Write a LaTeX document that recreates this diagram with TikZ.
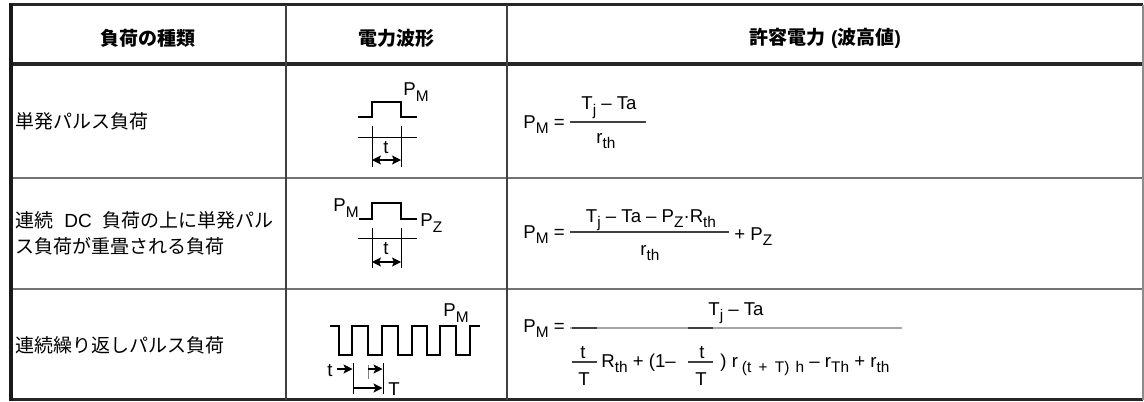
\documentclass[tikz,border=0pt]{standalone}
\usepackage{fontspec}
\setmainfont{Liberation Sans}
\newfontfamily\jp{Noto Sans CJK JP}
\newfontfamily\latn{Liberation Sans}
\usetikzlibrary{arrows.meta}
\newcommand\sbs[1]{\raisebox{-0.28em}{\fontsize{7.7}{9}\selectfont #1}}
\newcommand\fmsize{\fontsize{9.3}{11}\selectfont}
\tikzset{
  jtxt/.style={font=\jp\fontsize{9.5}{13}\selectfont, inner sep=0pt, align=left},
  hdr/.style={font=\jp\bfseries\fontsize{9.5}{13}\selectfont, inner sep=0pt},
  ftxt/.style={font=\fmsize, inner sep=0pt},
  wave/.style={line width=1pt, line join=miter},
  dimline/.style={line width=0.5pt},
  tip/.tip={Stealth[length=4.5pt,width=4.5pt,inset=1pt]},
  dimarrow/.style={line width=0.6pt, -tip},
  dimboth/.style={line width=0.6pt, tip-tip},
  fbar/.style={line width=0.9pt, black!75},
}
\begin{document}
\begin{tikzpicture}[x=0.5pt,y=-0.5pt]
\useasboundingbox (0,0) rectangle (1144,401);
% table grid
\draw[line width=1.5pt, black!85] (9,5) -- (1143,5);
\draw[line width=1.8pt, black!85] (9,64) -- (1143,64);
\draw[line width=1.1pt, black!55] (9,178) -- (1143,178);
\draw[line width=1.1pt, black!55] (9,289) -- (1143,289);
\draw[line width=1.2pt, black!85] (9,399.5) -- (1143,399.5);
\draw[line width=1pt, black!45] (1142.5,5) -- (1142.5,400);
\draw[line width=0.9pt, black!75] (286,5) -- (286,400);
\draw[line width=0.9pt, black!75] (507,5) -- (507,400);
\draw[line width=2pt, black!90] (10.5,4) -- (10.5,400.5);
% header
\node[hdr] (h1) at (148,38) {負荷の種類};
\node[hdr] (h2) at (396,38) {電力波形};
\node[hdr] (h3) at (825,38) {許容電力\hspace{3pt}{\latn(}波高値{\latn)}};
% column 1
\node[jtxt, anchor=west] (c1) at (15,121) {単発パルス負荷};
\node[jtxt, anchor=west] (c2) at (15,233) {連続\hspace{5.5pt}{\latn DC}\hspace{5.5pt}負荷の上に単発パル\\ス負荷が重畳される負荷};
\node[jtxt, anchor=west] (c3) at (15,345) {連続繰り返しパルス負荷};
% waveform 1
\draw[wave] (358,117) -- (372,117) -- (372,102) -- (401,102) -- (401,117) -- (417,117);
\node[ftxt] (w1pm) at (416,92) {P\sbs{M}};
\draw[dimline] (358,137) -- (417,137);
\draw[dimline] (372,126) -- (372,167);
\draw[dimline] (401,126) -- (401,167);
\node[ftxt] (w1t) at (386,148) {t};
\draw[dimboth] (372,160) -- (401,160);
% waveform 2
\draw[wave] (359,219) -- (372,219) -- (372,203) -- (401,203) -- (401,219) -- (417,219);
\node[ftxt, anchor=east] (w2pm) at (359,208) {P\sbs{M}};
\node[ftxt, anchor=west] (w2pz) at (420,223) {P\sbs{Z}};
\draw[dimline] (358,238) -- (417,238);
\draw[dimline] (372,228) -- (372,268);
\draw[dimline] (401,228) -- (401,268);
\node[ftxt] (w2t) at (386,249) {t};
\draw[dimboth] (372,262) -- (401,262);
% waveform 3
\draw[wave] (330,326) -- (339,326) -- (339,355) -- (352,355) -- (352,326) -- (368,326) -- (368,355) -- (382,355) -- (382,326) -- (398,326) -- (398,355) -- (412,355) -- (412,326) -- (427,326) -- (427,355) -- (440,355) -- (440,326) -- (456,326) -- (456,355) -- (470,355) -- (470,326) -- (480,326);
\node[ftxt] (w3pm) at (456,313) {P\sbs{M}};
\node[ftxt] (w3t) at (330,371) {t};
\coordinate (a1s) at (337,369);
\coordinate (a1e) at (352.5,369);
\draw[dimarrow] (a1s) -- (a1e);
\draw[dimline] (353,363) -- (353,394);
\draw[dimline, black!50] (368,365) -- (368,379);
\coordinate (a2s) at (368,369);
\coordinate (a2e) at (382.5,369);
\draw[dimarrow] (a2s) -- (a2e);
\draw[dimline] (383,363) -- (383,394);
\coordinate (a3s) at (353,388);
\coordinate (a3e) at (382.5,388);
\draw[dimarrow] (a3s) -- (a3e);
\node[ftxt] (w3T) at (394,389) {T};
% formula 1
\node[ftxt, anchor=base west] (f1a) at (523,128.5) {P\sbs{M} =};
\draw[fbar] (570,122) -- (646,122);
\node[ftxt, anchor=base] (f1n) at (609,110) {T\sbs{j} – Ta};
\node[ftxt, anchor=base] (f1d) at (606,143) {r\sbs{th}};
% formula 2
\node[ftxt, anchor=base west] (f2a) at (523,238) {P\sbs{M} =};
\draw[fbar] (570,232) -- (729,232);
\node[ftxt, anchor=base] (f2n) at (651,222) {T\sbs{j} – Ta – P\sbs{Z}·R\sbs{th}};
\node[ftxt, anchor=base] (f2d) at (650,255) {r\sbs{th}};
\node[ftxt, anchor=base west] (f2p) at (734,240) {+ P\sbs{Z}};
% formula 3
\node[ftxt, anchor=base west] (f3a) at (523,332) {P\sbs{M} =};
\draw[line width=0.7pt, black!35] (570,328) -- (902,328);
\draw[fbar] (572,328) -- (597,328);
\draw[fbar] (688,328) -- (713,328);
\node[ftxt, anchor=base] (f3n) at (736,315) {T\sbs{j} – Ta};
\node[ftxt, anchor=base] (f3t1) at (583,358) {t};
\draw[fbar] (572,362) -- (597,362);
\node[ftxt, anchor=base] (f3T1) at (584,385) {T};
\node[ftxt, anchor=base west] (f3b) at (601,367) {R\sbs{th} + (1–};
\node[ftxt, anchor=base] (f3t2) at (702,358) {t};
\draw[fbar] (688,362) -- (713,362);
\node[ftxt, anchor=base] (f3T2) at (701,385) {T};
\node[ftxt, anchor=base west] (f3c) at (720,367) {) r\sbs{\hspace{2pt}(t\hspace{1.5pt} +\hspace{1.5pt} T) \hspace{1pt}h} – r\sbs{Th} + r\sbs{th}};
\end{tikzpicture}
\end{document}
